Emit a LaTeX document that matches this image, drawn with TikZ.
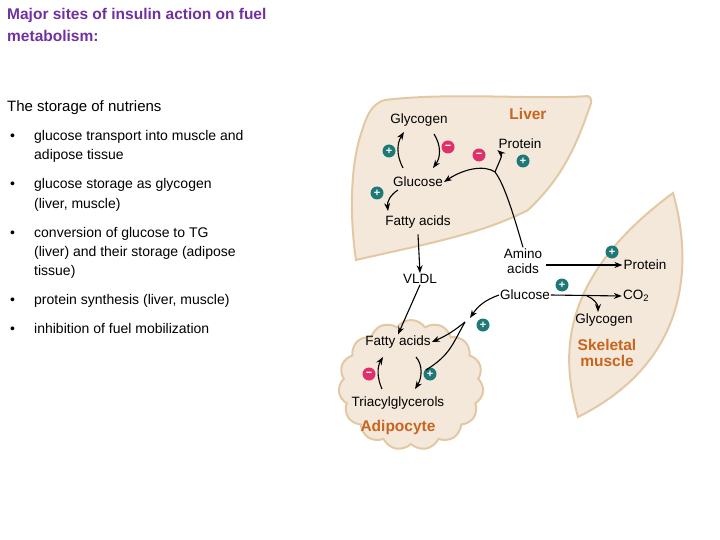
\documentclass[tikz,border=0pt]{standalone}
\usepackage{fontspec}
\setmainfont{Liberation Sans}
\usetikzlibrary{shapes.symbols,arrows.meta}
\definecolor{ttl}{HTML}{7030A0}
\definecolor{organ}{HTML}{F4E8DA}
\definecolor{organline}{HTML}{E2C9A4}
\definecolor{orglbl}{HTML}{C8641E}
\definecolor{plusc}{HTML}{1E7878}
\definecolor{minusc}{HTML}{E0306A}
\begin{document}
\begin{tikzpicture}[x=1pt,y=-1pt,
  body/.style={font=\fontsize{14}{17}\selectfont,anchor=base west,inner sep=0},
  lbl/.style={font=\fontsize{13.5}{15}\selectfont,inner sep=1pt,align=center},
  olbl/.style={font=\fontsize{15.5}{16}\selectfont\bfseries,text=orglbl,align=center,inner sep=0},
  organshape/.style={fill=organ,draw=organline,line width=2pt},
  pl/.style={circle,fill=plusc,text=white,inner sep=0,minimum size=13pt,font=\fontsize{11}{11}\selectfont\bfseries},
  mi/.style={circle,fill=minusc,text=white,inner sep=0,minimum size=13pt,font=\fontsize{11}{11}\selectfont\bfseries},
  arr/.style={-{Stealth[length=8pt,width=6pt]},line width=1.1pt}]
\useasboundingbox (0,0) rectangle (720,540);
% title and text
\node[body,font=\fontsize{15.5}{18}\selectfont\bfseries,text=ttl] (t1) at (7,20) {Major sites of insulin action on fuel};
\node[body,font=\fontsize{15.5}{18}\selectfont\bfseries,text=ttl] (t2) at (7,42) {metabolism:};
\node[body,font=\fontsize{15}{18}\selectfont] (st) at (7,112) {The storage of nutriens};
\foreach \y/\t [count=\i] in {141/{glucose transport into muscle and},160/{adipose tissue},189/{glucose storage as glycogen},208/{(liver, muscle)},237/{conversion of glucose to TG},256/{(liver) and their storage (adipose},275/{tissue)},304/{protein synthesis (liver, muscle)},333/{inhibition of fuel mobilization}}
  \node[body] (b\i) at (34,\y) {\t};
\foreach \y [count=\i] in {141,189,237,304,333}
  \node[body] (d\i) at (10,\y) {•};
% organs
\draw[organshape] (385,100) .. controls (450,92) and (540,100) .. (588,96)
  .. controls (592,98) and (592,102) .. (590,106)
  .. controls (575,150) and (560,180) .. (528,210)
  .. controls (480,235) and (420,245) .. (356,260)
  .. controls (350,220) and (350,170) .. (360,137)
  .. controls (366,118) and (370,104) .. (385,100) -- cycle;
\draw[organshape] (673,193) .. controls (692,260) and (692,360) .. (578,417)
  .. controls (562,360) and (555,280) .. (673,193) -- cycle;
\node[cloud,cloud puffs=15,cloud puff arc=110,aspect=1.1,organshape,minimum width=145pt,minimum height=130pt] (cl) at (411,385) {};
% labels
\node[olbl] (liver) at (528,114) {Liver};
\node[olbl] (skm) at (607,353) {Skeletal\\muscle};
\node[olbl] (adi) at (398,427) {Adipocyte};
\node[lbl] (gly) at (419,120) {Glycogen};
\node[lbl] (pro) at (520,144) {Protein};
\node[lbl] (glu) at (418,182) {Glucose};
\node[lbl] (fa) at (418,222) {Fatty acids};
\node[lbl] (aa) at (523,261) {Amino\\acids};
\node[lbl] (vldl) at (420,279) {VLDL};
\node[lbl] (mpro) at (645,265) {Protein};
\node[lbl] (mglu) at (525,295) {Glucose};
\node[lbl] (co2) at (636,296) {CO\textsubscript{2}};
\node[lbl] (mgly) at (604,320) {Glycogen};
\node[lbl] (afa) at (398,342) {Fatty acids};
\node[lbl] (tag) at (398,403) {Triacylglycerols};
% signs
\node[pl] (p1) at (389,151) {+};
\node[mi] (m1) at (448,147) {−};
\node[mi] (m2) at (479,155) {−};
\node[pl] (p2) at (523,161) {+};
\node[pl] (p3) at (377,193) {+};
\node[pl] (p4) at (612,252) {+};
\node[pl] (p5) at (562,285) {+};
\node[pl] (p6) at (483,325) {+};
\node[mi] (m3) at (369,374) {−};
\node[pl] (p7) at (430,374) {+};
% coordinates
\coordinate (j1) at (495,172);
\coordinate (j2) at (587,296);
\coordinate (j3) at (465,322);
% arrows
\draw[arr] (403,168) .. controls (396,155) and (397,143) .. (404,132);
\draw[arr] (434,134) .. controls (441,145) and (441,157) .. (433,168);
\draw[arr] (398,190) .. controls (390,195) and (387,202) .. (388,211);
\draw[arr] (fa.south) ++(0,5) -- (vldl.north);
\draw[arr] (vldl.south) -- (afa.north);
\draw[arr] (aa.north) .. controls (515,220) and (505,185) .. (j1) .. controls (485,165) and (465,168) .. (glu.east);
\draw[arr] (j1) .. controls (499,162) and (503,155) .. (pro.south west);
\draw[arr] (aa.east) ++(3,4) -- (mpro.west);
\draw[arr] (mglu.east) -- (co2.west);
\draw[arr] (j2) .. controls (593,298) and (598,304) .. (598,312);
\draw[arr] (mglu.west) .. controls (485,300) and (478,306) .. (470,318);
\draw[arr] (j3) .. controls (455,330) and (448,335) .. (afa.east);
\draw[line width=1.1pt] (j3) .. controls (452,345) and (450,355) .. (426,370);
\draw[arr] (416,357) .. controls (423,365) and (422,378) .. (415,389);
\draw[arr] (382,389) .. controls (377,378) and (377,367) .. (383,357);
\end{tikzpicture}
\end{document}
